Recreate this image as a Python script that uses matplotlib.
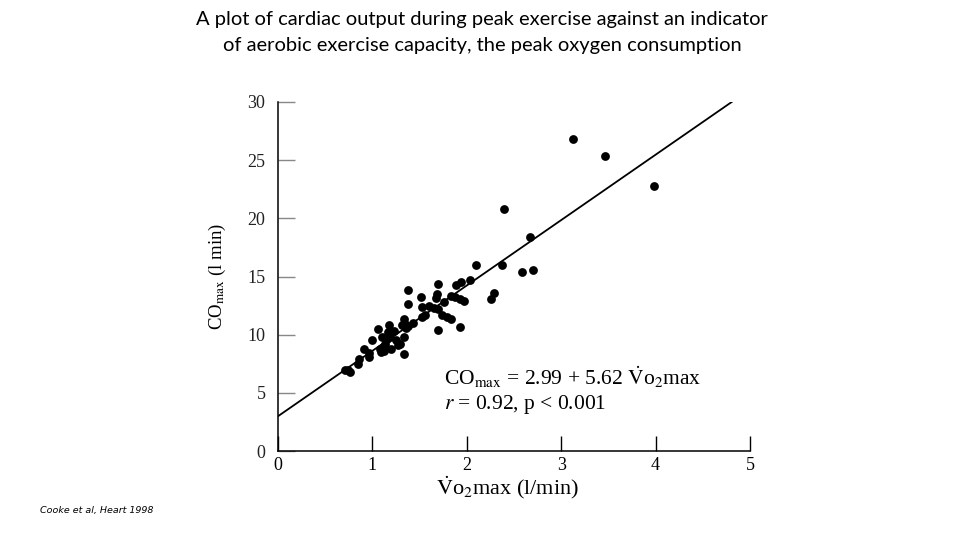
import matplotlib
matplotlib.use("Agg")
import matplotlib.pyplot as plt
import numpy as np

# Data
vo2max = [3.12, 3.46, 3.98, 2.39, 2.67, 2.10, 2.37, 2.59, 2.70, 2.03,
          1.94, 1.89, 1.70, 1.38, 2.29, 2.26, 1.68, 1.67, 1.51, 1.38,
          1.83, 1.87, 1.93, 1.97, 1.76, 1.60, 1.65, 1.69, 1.53, 1.53,
          1.56, 1.74, 1.79, 1.83, 1.69, 1.93, 1.33, 1.43, 1.35, 1.31,
          1.36, 1.18, 1.06, 1.17, 1.23, 1.19, 1.10, 1.34, 1.25, 1.00,
          1.29, 1.13, 1.11, 1.20, 1.08, 0.91, 1.09, 1.33, 0.96, 0.96,
          0.86, 0.85, 0.74, 0.76, 0.71, 1.15, 1.27, 1.38, 1.12]
comax = [26.79, 25.38, 22.80, 20.76, 18.40, 15.99, 15.99, 15.39, 15.59, 14.70,
         14.56, 14.30, 14.38, 13.87, 13.61, 13.09, 13.47, 13.12, 13.21, 12.63,
         13.35, 13.21, 13.06, 12.92, 12.78, 12.49, 12.29, 12.17, 12.37, 11.54,
         11.66, 11.66, 11.51, 11.31, 10.39, 10.68, 11.34, 10.97, 10.94, 10.80,
         10.54, 10.82, 10.48, 10.19, 10.28, 9.82, 9.76, 9.76, 9.53, 9.50,
         9.19, 9.19, 8.93, 8.81, 8.81, 8.79, 8.47, 8.33, 8.41, 8.04,
         7.90, 7.46, 6.98, 6.75, 6.92, 9.63, 9.10, 10.78, 8.60]
intercept = 2.99
slope = 5.62
x_ticks = [0, 1, 2, 3, 4, 5]
y_ticks = [0, 5, 10, 15, 20, 25, 30]

plt.rcParams['mathtext.fontset'] = 'stix'
serif = ['Liberation Serif', 'DejaVu Serif']

fig = plt.figure(figsize=(9.6, 5.4), dpi=100)
ax = fig.add_axes([278/960, 1 - 451/540, 472/960, 349/540])

ax.scatter(vo2max, comax, s=40, color='black', linewidths=0, zorder=3)
x_end = (30 - intercept) / slope
xl = np.array([0, x_end])
ax.plot(xl, intercept + slope * xl, color='black', lw=1.3, zorder=2)

ax.set_xlim(0, 5)
ax.set_ylim(0, 30)
ax.set_xticks(x_ticks)
ax.set_yticks(y_ticks)
ax.set_xticklabels([str(t) for t in x_ticks], family=serif, fontsize=13)
ax.set_yticklabels([str(t) for t in y_ticks], family=serif, fontsize=13, color='#222222')
ax.tick_params(axis='x', direction='in', length=11, width=1, pad=4)
ax.tick_params(axis='y', direction='in', length=12, width=1, pad=9, color='#888888')
for s in ['top', 'right']:
    ax.spines[s].set_visible(False)
for s in ['left', 'bottom']:
    ax.spines[s].set_linewidth(1.1)

ax.set_ylabel(r'CO$_{\mathrm{max}}$ (l min)', family=serif, fontsize=13.5)
ax.yaxis.set_label_coords(-0.105, 0.5)
ax.set_xlabel(r'$\dot{\mathrm{V}}$o$_2$max (l/min)', family=serif, fontsize=16)
ax.xaxis.set_label_coords(0.487, -0.066)

ax.text(444/960, 1 - 377/540, r'CO$_{\mathrm{max}}$ = 2.99 + 5.62 $\dot{\mathrm{V}}$o$_2$max',
        transform=fig.transFigure, family=serif, fontsize=15.5, va='center', ha='left')
ax.text(444/960, 1 - 404/540, r'$r$ = 0.92, p < 0.001',
        transform=fig.transFigure, family=serif, fontsize=15.5, va='center', ha='left')

fig.text(482/960, 1 - 20/540,
         'A plot of cardiac output during peak exercise against an indicator',
         ha='center', va='center', fontsize=14.5, family=['Lato', 'DejaVu Sans'])
fig.text(482/960, 1 - 45/540,
         'of aerobic exercise capacity, the peak oxygen consumption',
         ha='center', va='center', fontsize=14.5, family=['Lato', 'DejaVu Sans'])
fig.text(40/960, 1 - 510/540, 'Cooke et al, Heart 1998', ha='left', va='center',
         fontsize=6.8, style='italic', family=['DejaVu Sans'])

fig.savefig('out.png', dpi=100)
